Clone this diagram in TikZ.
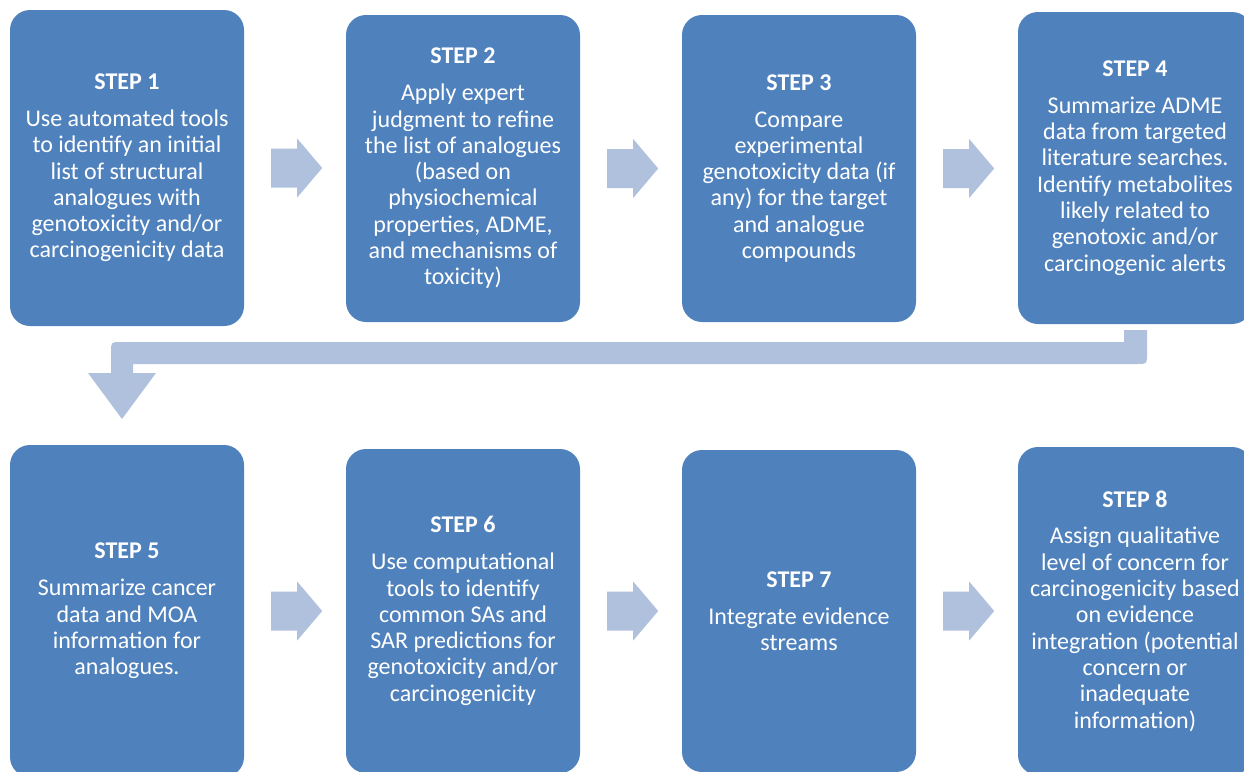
\documentclass[tikz,border=0pt]{standalone}
\usepackage{fontspec}
\setmainfont{Carlito}
\usetikzlibrary{calc}
\definecolor{boxblue}{HTML}{4F81BD}
\definecolor{arrowblue}{HTML}{B0C1DE}
\newcommand\stepArrow[1]{%
  \fill[blockarr] ($(#1.east)+(27,-19.5)$) -- ++(26,0) -- ++(0,-10) -- ++(25,29.5)
    -- ++(-25,29.5) -- ++(0,-10) -- ++(-26,0) -- cycle;}
\begin{document}
\begin{tikzpicture}[x=1pt,y=-1pt,
  stepbox/.style={fill=boxblue, rounded corners=20pt, minimum width=234pt,
    inner sep=0pt, text=white, align=center,
    font=\fontsize{24}{26.3}\selectfont},
  blockarr/.style={fill=arrowblue}]
\useasboundingbox (0,0) rectangle (1244,771);
\clip (0,0) rectangle (1244,771);
% top row
\node[stepbox, minimum height=316pt] (s1) at (127,168)
  {\textbf{STEP 1}\\[10.5pt]Use automated tools\\to identify an initial\\list of structural\\analogues with\\genotoxicity and/or\\carcinogenicity data};
\node[stepbox, minimum height=307pt] (s2) at (463,168.5)
  {\textbf{STEP 2}\\[10.5pt]Apply expert\\judgment to refine\\the list of analogues\\(based on\\physiochemical\\properties, ADME,\\and mechanisms of\\toxicity)};
\node[stepbox, minimum height=307pt] (s3) at (799,168.5)
  {\textbf{STEP 3}\\[10.5pt]Compare\\experimental\\genotoxicity data (if\\any) for the target\\and analogue\\compounds};
\node[stepbox, minimum height=312pt] (s4) at (1135,168)
  {\textbf{STEP 4}\\[10.5pt]Summarize ADME\\data from targeted\\literature searches.\\Identify metabolites\\likely related to\\genotoxic and/or\\carcinogenic alerts};
% bottom row
\node[stepbox, minimum height=332pt] (s5) at (127,611)
  {\textbf{STEP 5}\\[10.5pt]Summarize cancer\\data and MOA\\information for\\analogues.};
\node[stepbox, minimum height=324pt] (s6) at (463,611)
  {\textbf{STEP 6}\\[10.5pt]Use computational\\tools to identify\\common SAs and\\SAR predictions for\\genotoxicity and/or\\carcinogenicity};
\node[stepbox, minimum height=322pt] (s7) at (799,611)
  {\textbf{STEP 7}\\[10.5pt]Integrate evidence\\streams};
\node[stepbox, minimum height=328pt] (s8) at (1135,611)
  {\textbf{STEP 8}\\[10.5pt]Assign qualitative\\level of concern for\\carcinogenicity based\\on evidence\\integration (potential\\concern or\\inadequate\\information)};
% block arrows
\stepArrow{s1}
\stepArrow{s2}
\stepArrow{s3}
\stepArrow{s5}
\stepArrow{s6}
\stepArrow{s7}
% bent arrow from step 4 to step 5
\coordinate (bendStart) at (1135.5,330);
\coordinate (bendTip) at (122,419);
\fill[blockarr] (1124,330) -- (1147,330) -- (1147,354) .. controls (1147,364) .. (1137,364)
  -- (133,364) -- (133,373) -- (156,373) -- (bendTip) -- (88,373) -- (111,373)
  -- (111,352) .. controls (111,342) .. (121,342) -- (1124,342) -- cycle;
\end{tikzpicture}
\end{document}
